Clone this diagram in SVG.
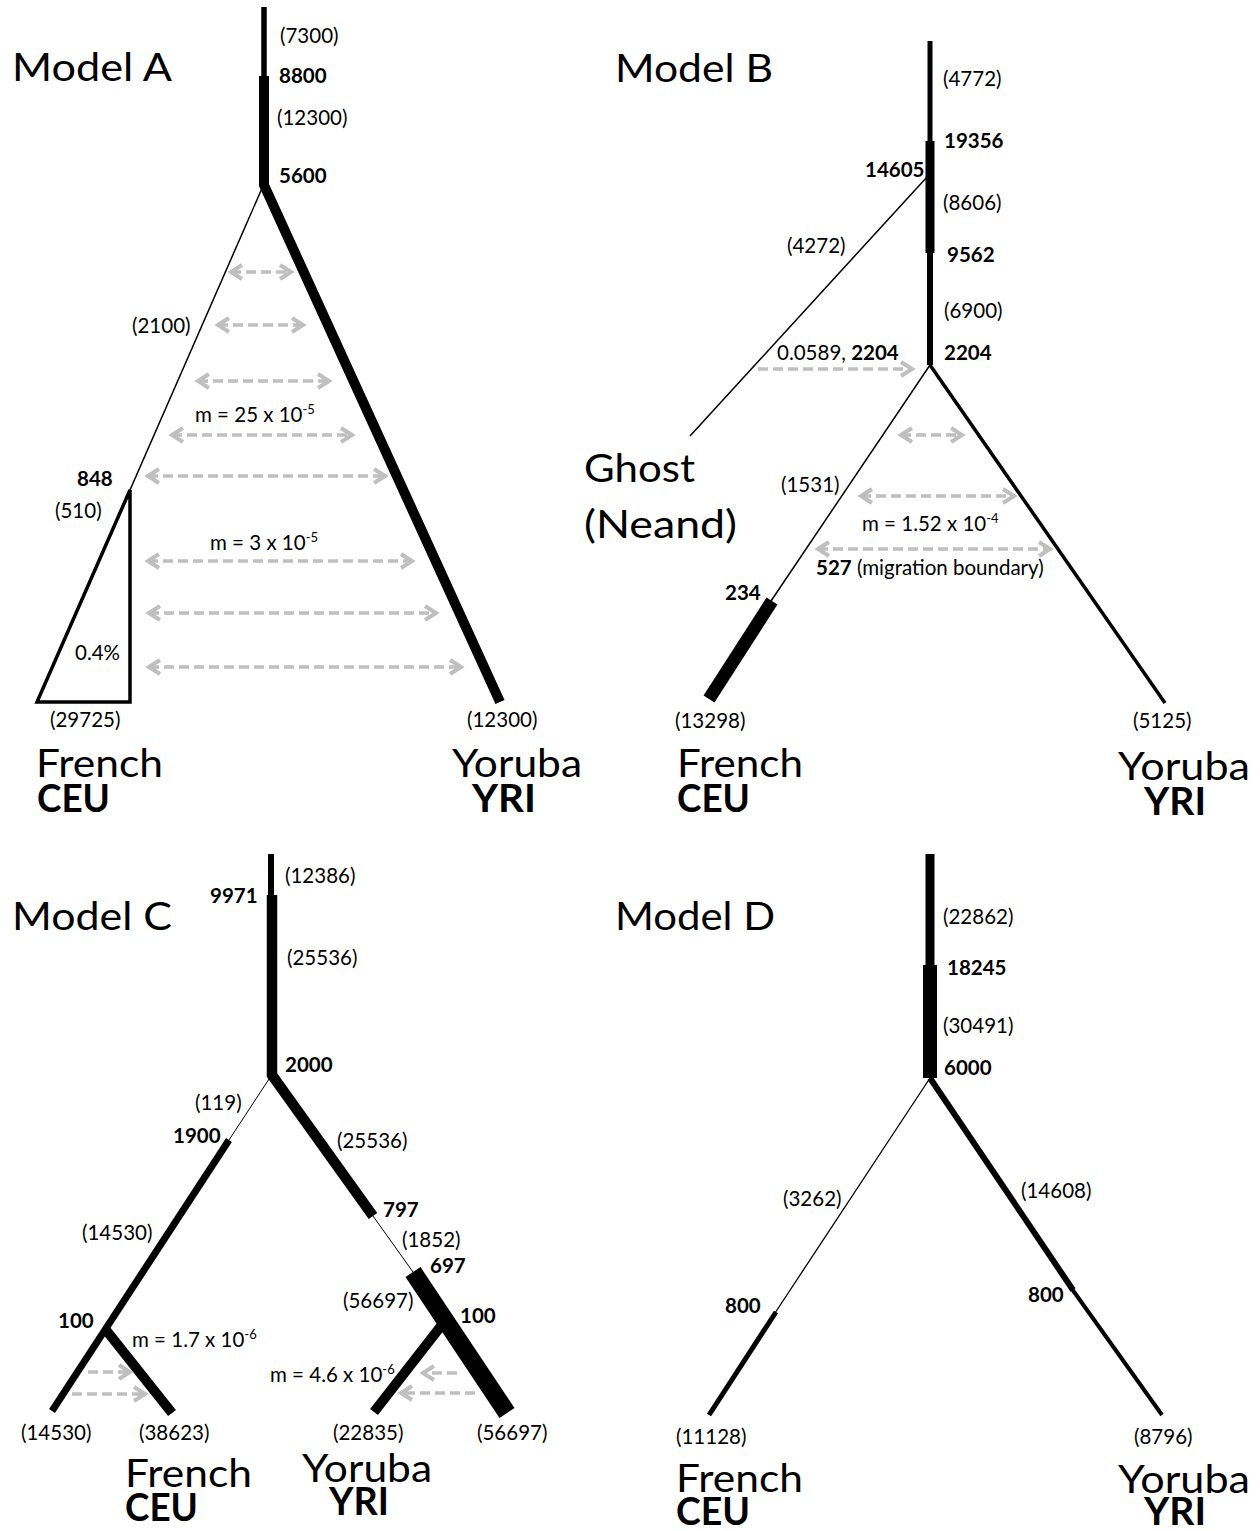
<svg xmlns="http://www.w3.org/2000/svg" width="1260" height="1531" viewBox="0 0 1260 1531">
<style>
.t{font-family:Lato,'Open Sans','DejaVu Sans',sans-serif;font-size:20.5px;fill:#000}
.b{font-weight:bold}
.big{font-size:39px}
.sup{font-size:13px}
.br{stroke:#000;fill:none;stroke-linecap:butt;stroke-linejoin:miter}
.mg{stroke:#bfbfbf;stroke-width:3.5;stroke-dasharray:10 5;fill:none}
.two{marker-start:url(#ah);marker-end:url(#ah)}
.one{marker-end:url(#ah)}
</style>
<defs>
<marker id="ah" viewBox="0 0 16 18" refX="13" refY="9" markerWidth="16" markerHeight="18" markerUnits="userSpaceOnUse" orient="auto-start-reverse" overflow="visible">
<path d="M2,2 L13,9 L2,16" fill="none" stroke="#bfbfbf" stroke-width="4"/>
</marker>
</defs>
<rect width="1260" height="1531" fill="#fff"/>

<g id="connectors">
<g id="A-branches">
<path class="br" d="M264,7 V77" stroke-width="5.5"/>
<path class="br" d="M264,76 V185 L500,702" stroke-width="10"/>
<path class="br" d="M263,186 L130,490" stroke-width="1.5"/>
<path class="br" d="M130,490 L37,702 L130,702 Z" stroke-width="3.5"/>
</g>
<g id="A-migration">
<path class="mg two" d="M231,272 H291"/>
<path class="mg two" d="M218,325 H303"/>
<path class="mg two" d="M198,381 H329"/>
<path class="mg two" d="M172,435 H352"/>
<path class="mg two" d="M148,476 H385"/>
<path class="mg two" d="M148,561 H412"/>
<path class="mg two" d="M149,613 H436"/>
<path class="mg two" d="M149,667 H461"/>
</g>
<g id="B-branches">
<path class="br" d="M930,41 V142" stroke-width="5"/>
<path class="br" d="M930,141 V253" stroke-width="9"/>
<path class="br" d="M930,252 V365" stroke-width="6"/>
<path class="br" d="M927,177 L690,436" stroke-width="1.5"/>
<path class="br" d="M930,365 L771,601" stroke-width="1.5"/>
<path class="br" d="M772,601 L709,699" stroke-width="13"/>
<path class="br" d="M930,365 L1165,703" stroke-width="3.5"/>
</g>
<g id="B-migration">
<path class="mg one" d="M758,369 H912"/>
<path class="mg two" d="M901,435 H962"/>
<path class="mg two" d="M861,496 H1014"/>
<path class="mg two" d="M818,549 H1050"/>
</g>
<g id="C-branches">
<path class="br" d="M271,854 V896" stroke-width="6"/>
<path class="br" d="M272,895 V1075 L373,1216" stroke-width="10.5"/>
<path class="br" d="M271,1076 L229,1140" stroke-width="1"/>
<path class="br" d="M229,1140 L52,1411" stroke-width="7"/>
<path class="br" d="M106,1330 L172,1413" stroke-width="10"/>
<path class="br" d="M373,1216 L413,1272" stroke-width="1"/>
<path class="br" d="M413,1272 L507,1413" stroke-width="18"/>
<path class="br" d="M441,1326 L374,1412" stroke-width="10"/>
</g>
<g id="C-migration">
<path class="mg one" d="M88,1372 H130"/>
<path class="mg one" d="M72,1394 H145"/>
<path class="mg one" d="M457,1373 H423"/>
<path class="mg one" d="M475,1393 H401"/>
</g>
<g id="D-branches">
<path class="br" d="M930,854 V966" stroke-width="9"/>
<path class="br" d="M930,965 V1078" stroke-width="14"/>
<path class="br" d="M930,1078 L775,1313" stroke-width="1.3"/>
<path class="br" d="M776,1312 L709,1415" stroke-width="5"/>
<path class="br" d="M930,1078 L1073,1290" stroke-width="6"/>
<path class="br" d="M1072,1289 L1162,1415" stroke-width="4"/>
</g>
</g>

<g id="modelA" class="t">
<text id="A-title" class="big" x="12" y="81" textLength="160" lengthAdjust="spacingAndGlyphs">Model A</text>
<text x="280" y="43">(7300)</text>
<text class="b" x="279" y="83">8800</text>
<text x="277" y="125">(12300)</text>
<text class="b" x="279" y="183">5600</text>
<text x="132" y="333">(2100)</text>
<text x="195" y="422">m = 25 x 10<tspan class="sup" dy="-8">-5</tspan></text>
<text x="210" y="550">m = 3 x 10<tspan class="sup" dy="-8">-5</tspan></text>
<text class="b" x="77" y="486">848</text>
<text x="55" y="518">(510)</text>
<text x="75" y="660">0.4%</text>
<text x="50" y="727">(29725)</text>
<text x="467" y="727">(12300)</text>
<g id="A-CEU"><text class="big" x="36" y="777" textLength="127" lengthAdjust="spacingAndGlyphs">French</text>
<text class="big b" x="37" y="812" textLength="73" lengthAdjust="spacingAndGlyphs">CEU</text></g>
<g id="A-YRI"><text class="big" x="452" y="777" textLength="130" lengthAdjust="spacingAndGlyphs">Yoruba</text>
<text class="big b" x="472" y="812" textLength="64" lengthAdjust="spacingAndGlyphs">YRI</text></g>
</g>

<g id="modelB" class="t">
<text id="B-title" class="big" x="615" y="82" textLength="158" lengthAdjust="spacingAndGlyphs">Model B</text>
<text x="943" y="86">(4772)</text>
<text class="b" x="944" y="148">19356</text>
<text class="b" x="865" y="177">14605</text>
<text x="943" y="210">(8606)</text>
<text class="b" x="947" y="262">9562</text>
<text x="944" y="318">(6900)</text>
<text class="b" x="944" y="360">2204</text>
<text x="787" y="253">(4272)</text>
<text x="777" y="360">0.0589, <tspan class="b">2204</tspan></text>
<text x="781" y="492">(1531)</text>
<text x="862" y="531">m = 1.52 x 10<tspan class="sup" dy="-8">-4</tspan></text>
<text x="816" y="575"><tspan class="b">527</tspan> (migration boundary)</text>
<text class="b" x="725" y="600">234</text>
<text x="675" y="728">(13298)</text>
<text x="1133" y="728">(5125)</text>
<g id="B-Ghost"><text class="big" x="584" y="482" textLength="111" lengthAdjust="spacingAndGlyphs">Ghost</text>
<text class="big" x="584" y="538" textLength="153" lengthAdjust="spacingAndGlyphs">(Neand)</text></g>
<g id="B-CEU"><text class="big" x="677" y="777" textLength="126" lengthAdjust="spacingAndGlyphs">French</text>
<text class="big b" x="677" y="812" textLength="73" lengthAdjust="spacingAndGlyphs">CEU</text></g>
<g id="B-YRI"><text class="big" x="1118" y="780" textLength="132" lengthAdjust="spacingAndGlyphs">Yoruba</text>
<text class="big b" x="1144" y="815" textLength="62" lengthAdjust="spacingAndGlyphs">YRI</text></g>
</g>

<g id="modelC" class="t">
<text id="C-title" class="big" x="12" y="930" textLength="160" lengthAdjust="spacingAndGlyphs">Model C</text>
<text x="285" y="883">(12386)</text>
<text class="b" x="210" y="903">9971</text>
<text x="287" y="965">(25536)</text>
<text class="b" x="285" y="1072">2000</text>
<text x="195" y="1110">(119)</text>
<text class="b" x="173" y="1143">1900</text>
<text x="337" y="1148">(25536)</text>
<text class="b" x="383" y="1217">797</text>
<text x="402" y="1247">(1852)</text>
<text class="b" x="430" y="1273">697</text>
<text x="82" y="1240">(14530)</text>
<text x="343" y="1308">(56697)</text>
<text class="b" x="58" y="1328">100</text>
<text class="b" x="460" y="1323">100</text>
<text x="132" y="1347">m = 1.7 x 10<tspan class="sup" dy="-8">-6</tspan></text>
<text x="270" y="1382">m = 4.6 x 10<tspan class="sup" dy="-8">-6</tspan></text>
<text x="21" y="1440">(14530)</text>
<text x="139" y="1440">(38623)</text>
<text x="333" y="1440">(22835)</text>
<text x="477" y="1440">(56697)</text>
<g id="C-CEU"><text class="big" x="125" y="1487" textLength="127" lengthAdjust="spacingAndGlyphs">French</text>
<text class="big b" x="125" y="1521" textLength="73" lengthAdjust="spacingAndGlyphs">CEU</text></g>
<g id="C-YRI"><text class="big" x="302" y="1482" textLength="130" lengthAdjust="spacingAndGlyphs">Yoruba</text>
<text class="big b" x="329" y="1515" textLength="60" lengthAdjust="spacingAndGlyphs">YRI</text></g>
</g>

<g id="modelD" class="t">
<text id="D-title" class="big" x="615" y="930" textLength="160" lengthAdjust="spacingAndGlyphs">Model D</text>
<text x="943" y="924">(22862)</text>
<text class="b" x="947" y="975">18245</text>
<text x="943" y="1033">(30491)</text>
<text class="b" x="944" y="1075">6000</text>
<text x="783" y="1206">(3262)</text>
<text x="1021" y="1198">(14608)</text>
<text class="b" x="725" y="1313">800</text>
<text class="b" x="1028" y="1302">800</text>
<text x="676" y="1444">(11128)</text>
<text x="1134" y="1444">(8796)</text>
<g id="D-CEU"><text class="big" x="676" y="1492" textLength="127" lengthAdjust="spacingAndGlyphs">French</text>
<text class="big b" x="676" y="1525" textLength="74" lengthAdjust="spacingAndGlyphs">CEU</text></g>
<g id="D-YRI"><text class="big" x="1118" y="1493" textLength="132" lengthAdjust="spacingAndGlyphs">Yoruba</text>
<text class="big b" x="1144" y="1525" textLength="62" lengthAdjust="spacingAndGlyphs">YRI</text></g>
</g>
</svg>
